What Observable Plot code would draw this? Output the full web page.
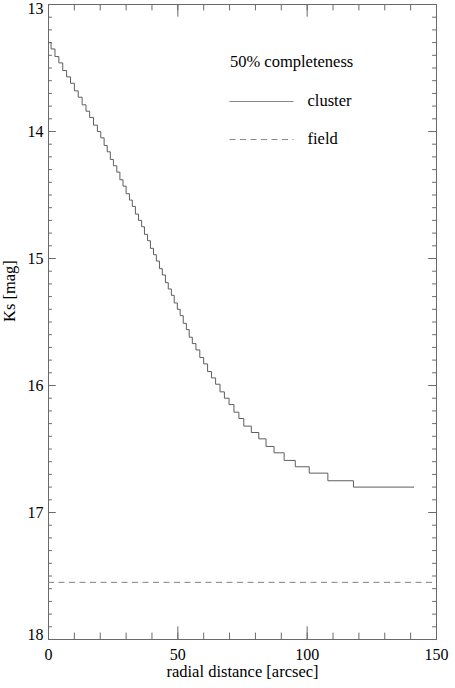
<!DOCTYPE html>
<html>
<head>
<meta charset="utf-8">
<script src="https://cdn.jsdelivr.net/npm/d3@7"></script>
<script src="https://cdn.jsdelivr.net/npm/@observablehq/plot@0.6"></script>
<style>
  html, body { margin: 0; padding: 0; background: #fff; }
</style>
</head>
<body>
<div id="chart"></div>
<script>
// cluster 50% completeness limit: step positions (radial distance, arcsec) and Ks levels (mag)
const clusterR = [0, 1.0, 2.5, 4.0, 5.5, 7.0, 8.5, 10.0, 11.5, 13.0, 14.5, 15.9, 17.4, 18.9, 20.2, 21.5, 22.7, 23.9, 25.1, 26.4, 27.6, 28.8, 30.0, 31.3, 32.4, 33.6, 34.8, 36.0, 37.1, 38.3, 39.4, 40.6, 41.7, 42.9, 44.0, 45.2, 46.3, 47.5, 48.6, 49.8, 50.9, 52.1, 53.3, 54.4, 55.6, 57.0, 58.5, 60.0, 61.5, 63.0, 64.6, 66.3, 68.0, 69.8, 71.7, 73.6, 75.5, 78.4, 81.3, 84.1, 87.2, 91.1, 95.4, 100.8, 108.0, 117.9, 141.3];
const clusterKs = [13.30, 13.35, 13.41, 13.46, 13.52, 13.57, 13.62, 13.68, 13.73, 13.79,
  13.84, 13.89, 13.95, 14.00, 14.05, 14.11, 14.16, 14.22, 14.27, 14.32,
  14.38, 14.43, 14.49, 14.54, 14.59, 14.65, 14.70, 14.75, 14.81, 14.86,
  14.92, 14.97, 15.02, 15.08, 15.13, 15.19, 15.24, 15.29, 15.35, 15.40,
  15.45, 15.51, 15.56, 15.62, 15.67, 15.72, 15.78, 15.83, 15.89, 15.94,
  15.99, 16.05, 16.10, 16.15, 16.21, 16.26, 16.32, 16.37, 16.42, 16.48,
  16.53, 16.59, 16.64, 16.69, 16.75, 16.80, 16.80];
// field 50% completeness limit (mag)
const fieldKs = [17.55];

// tick labels
const xTickLabels = [0, 50, 100, 150];
const yTickLabels = [13, 14, 15, 16, 17, 18];
const xMinorTicks = d3.range(0, 151, 10);
const yMinorTicks = d3.range(130, 181, 1).map(d => d / 10);

const cluster = clusterR.map((r, i) => ({r, ks: clusterKs[i]}));

const W = 455, H = 688;
const mL = 48, mR = 19, mT = 4, mB = 49;
const fw = W - mL - mR, fh = H - mT - mB;
const axisColor = "#6a6a6a";
const font = "'Liberation Serif', 'Times New Roman', serif";
const tickFont = 16, titleFont = 16.5, legendFont = 16.5;

const chart = Plot.plot({
  width: W, height: H,
  marginLeft: mL, marginRight: mR, marginTop: mT, marginBottom: mB,
  x: {domain: [0, 150], axis: null},
  y: {domain: [13, 18], reverse: true, axis: null},
  style: {fontFamily: font, fontSize: "16px", color: "#000", background: "#fff", overflow: "visible"},
  marks: [
    // inward ticks on all four sides (IDL style)
    Plot.tickX(xMinorTicks, {x: d => d, stroke: axisColor, insetTop: fh - 6.4}),
    Plot.tickX(xMinorTicks, {x: d => d, stroke: axisColor, insetBottom: fh - 6.4}),
    Plot.tickX(xTickLabels, {x: d => d, stroke: axisColor, insetTop: fh - 12.7}),
    Plot.tickX(xTickLabels, {x: d => d, stroke: axisColor, insetBottom: fh - 12.7}),
    Plot.tickY(yMinorTicks, {y: d => d, stroke: axisColor, insetRight: fw - 3.9}),
    Plot.tickY(yMinorTicks, {y: d => d, stroke: axisColor, insetLeft: fw - 3.9}),
    Plot.tickY(yTickLabels, {y: d => d, stroke: axisColor, insetRight: fw - 7.8}),
    Plot.tickY(yTickLabels, {y: d => d, stroke: axisColor, insetLeft: fw - 7.8}),
    Plot.frame({stroke: axisColor}),
    // data
    Plot.ruleY(fieldKs, {y: d => d, stroke: "#808080", strokeDasharray: "6,4.5", strokeWidth: 1}),
    Plot.line(cluster, {x: "r", y: "ks", curve: "step-after", stroke: "#5e5e5e", strokeWidth: 1}),
    // tick labels
    Plot.text(xTickLabels, {x: d => d, frameAnchor: "bottom", dy: 15.5, lineAnchor: "middle", fill: "#000", fontSize: tickFont}),
    Plot.text(yTickLabels.filter(d => d > 13 && d < 18), {y: d => d, frameAnchor: "left", dx: -5, dy: 0.3, textAnchor: "end", lineAnchor: "middle", fill: "#000", fontSize: tickFont}),
    Plot.text(yTickLabels.filter(d => d === 13), {y: d => d, frameAnchor: "left", dx: -5, dy: 4.6, textAnchor: "end", lineAnchor: "middle", fill: "#000", fontSize: tickFont}),
    Plot.text(yTickLabels.filter(d => d === 18), {y: d => d, frameAnchor: "left", dx: -5, dy: -4.9, textAnchor: "end", lineAnchor: "middle", fill: "#000", fontSize: tickFont}),
    // axis titles
    Plot.text(["radial distance [arcsec]"], {frameAnchor: "bottom", dy: 32.6, lineAnchor: "middle", fill: "#000", fontSize: titleFont}),
    Plot.text(["Ks [mag]"], {frameAnchor: "left", dx: -38.5, rotate: -90, lineAnchor: "middle", fill: "#000", fontSize: titleFont}),
    // legend texts
    Plot.text(["50% completeness"], {frameAnchor: "top-left", dx: 181.5, dy: 57.4, textAnchor: "start", lineAnchor: "middle", fill: "#000", fontSize: legendFont}),
    Plot.text(["cluster"], {frameAnchor: "top-left", dx: 259, dy: 96.4, textAnchor: "start", lineAnchor: "middle", fill: "#000", fontSize: legendFont}),
    Plot.text(["field"], {frameAnchor: "top-left", dx: 259, dy: 134, textAnchor: "start", lineAnchor: "middle", fill: "#000", fontSize: legendFont})
  ]
});

// legend line samples
const svg = d3.select(chart);
const lg = svg.append("g").attr("fill", "none").attr("stroke-width", 1);
lg.append("line").attr("x1", mL + 181.5).attr("x2", mL + 245.5).attr("y1", mT + 97.5).attr("y2", mT + 97.5).attr("stroke", "#888");
lg.append("line").attr("x1", mL + 181.5).attr("x2", mL + 245.5).attr("y1", mT + 135.5).attr("y2", mT + 135.5).attr("stroke", "#888").attr("stroke-dasharray", "6,4.5");

document.getElementById("chart").appendChild(chart);
</script>
</body>
</html>
